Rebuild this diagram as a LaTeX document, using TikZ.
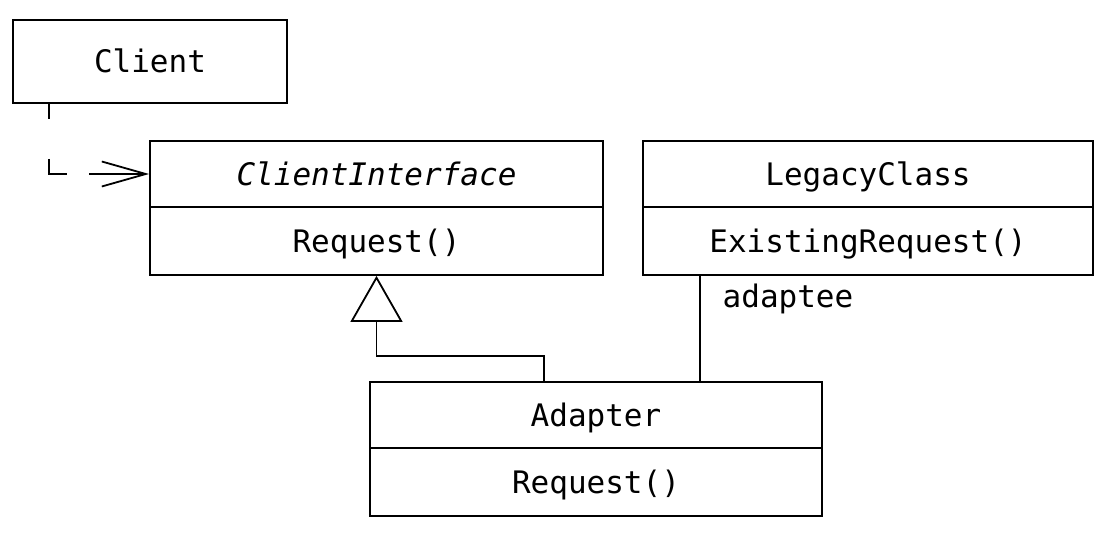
\documentclass[tikz,border=0pt]{standalone}
\usepackage{fontspec}
\setmonofont{DejaVu Sans Mono}
\usetikzlibrary{arrows.meta,calc}
\begin{document}
\begin{tikzpicture}[x=1pt,y=-1pt,
  line width=1.8pt,
  box/.style={draw,rectangle,inner sep=0pt,font=\ttfamily\fontsize{31}{31}\selectfont,
    text height=22.6pt,text depth=0pt,minimum height=#1},
  box/.default=66pt,
  lbl/.style={inner sep=0pt,font=\ttfamily\fontsize{31}{31}\selectfont,text height=22.6pt,text depth=0pt}]
\useasboundingbox (0,0) rectangle (1114,534);
% Client
\node[box=83pt,minimum width=274pt] (client) at (150,61.5) {Client};
% ClientInterface
\node[box=66pt,minimum width=453pt] (ciH) at (376.5,174) {\itshape ClientInterface};
\node[box=68pt,minimum width=453pt] (ciB) at (376.5,241) {Request()};
% LegacyClass
\node[box=66pt,minimum width=450pt] (lcH) at (868,174) {LegacyClass};
\node[box=68pt,minimum width=450pt] (lcB) at (868,241) {ExistingRequest()};
% Adapter
\node[box=66pt,minimum width=452pt] (adH) at (596,415) {Adapter};
\node[box=68pt,minimum width=452pt] (adB) at (596,482) {Request()};
% label
\node[lbl] (adaptee) at (788,296) {adaptee};
% connectors
\coordinate (cstart) at ($(client.south west)+(37,0)$);
\draw[dash pattern=on 15pt off 40pt on 33pt off 22pt on 200pt,
  -{Straight Barb[length=44pt,width=25pt]}] (cstart) |- (ciH.west);
\coordinate (gstart) at ($(adH.north west)+(175,0)$);
\coordinate (gbend) at ($(ciB.south)+(0,80)$);
\draw[-{Triangle[open,length=46pt,width=52pt]}] (gstart) |- (gbend) -- (ciB.south);
\coordinate (astart) at ($(lcB.south west)+(58,0)$);
\coordinate (aend) at ($(adH.north west)+(331,0)$);
\draw (astart) -- (aend);
\end{tikzpicture}
\end{document}
